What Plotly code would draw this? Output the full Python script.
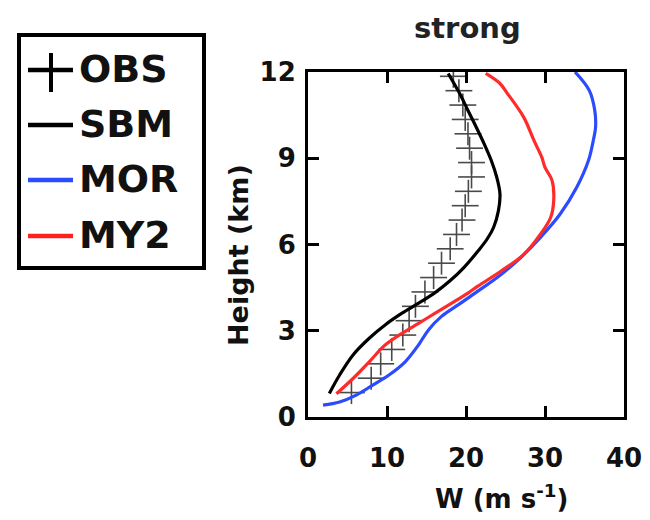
import plotly.graph_objects as go

# ---------------- data ----------------
obs_height = [0.85, 1.35, 1.85, 2.35, 2.85, 3.35, 3.85, 4.35, 4.85, 5.35, 5.85, 6.35,
              6.85, 7.35, 7.85, 8.35, 8.85, 9.35, 9.85, 10.35, 10.85, 11.35, 11.85]
obs_w = [5.5, 8.0, 9.2, 10.6, 12.0, 12.8, 13.6, 14.8, 15.9, 16.9, 18.0, 18.8,
         19.5, 19.9, 20.3, 20.7, 20.7, 20.45, 20.25, 19.9, 19.6, 19.1, 18.4]
obs_w_spread = [1.7, 1.7, 1.7, 1.7, 1.7, 1.7, 1.7, 1.7, 1.7, 1.7, 1.7, 1.7,
                1.7, 1.7, 1.7, 1.7, 1.7, 1.7, 1.7, 1.7, 1.7, 1.7, 1.7]
obs_h_spread = [0.4, 0.4, 0.4, 0.4, 0.4, 0.4, 0.4, 0.4, 0.4, 0.4, 0.4, 0.4,
                0.4, 0.4, 0.4, 0.4, 0.4, 0.4, 0.4, 0.4, 0.4, 0.4, 0.4]

sbm_height = [0.82, 1.46, 2.16, 2.74, 3.21, 3.61, 3.96, 4.31, 4.72, 5.19, 5.8, 6.2,
              6.6, 7.17, 7.75, 8.33, 8.92, 9.5, 10.08, 10.66, 11.25, 11.95]
sbm_w = [2.7, 4.0, 5.7, 7.75, 9.8, 11.9, 14.0, 16.0, 17.9, 19.7, 21.6, 22.7,
         23.5, 24.1, 24.3, 23.9, 23.2, 22.3, 21.3, 20.25, 19.2, 17.75]

mor_height = [0.41, 0.52, 0.76, 1.11, 1.46, 1.92, 2.51, 3.03, 3.5, 3.9, 4.3, 4.95,
              5.54, 6.24, 7.05, 7.98, 8.92, 9.6, 10.08, 10.66, 11.36, 12.0]
mor_w = [1.9, 4.0, 6.1, 8.2, 10.25, 12.3, 14.0, 15.25, 16.9, 19.0, 21.1, 24.4,
         26.9, 29.4, 31.9, 34.0, 35.5, 36.1, 36.4, 36.3, 35.6, 33.8]

my2_height = [0.81, 1.34, 1.92, 2.51, 2.91, 3.26, 3.61, 3.96, 4.31, 4.55, 5.07, 5.65,
              6.35, 6.93, 7.52, 8.22, 8.68, 9.03, 9.62, 10.43, 11.25, 11.6, 11.95]
my2_w = [3.6, 5.7, 7.75, 9.8, 11.9, 14.0, 16.1, 18.2, 20.25, 21.5, 24.4, 27.3,
         29.4, 30.7, 31.1, 30.9, 30.0, 29.6, 28.6, 27.3, 25.25, 24.3, 22.5]

x_ticks = [0, 10, 20, 30, 40]
y_ticks = [0, 3, 6, 9, 12]
legend_names = ["OBS", "SBM", "MOR", "MY2"]
legend_colors = ["black", "black", "#2b4bff", "#ff2020"]

FONT = "DejaVu Sans"

# ---------------- layout geometry (pixels) ----------------
W, H = 650, 520
L, R, T, B = 308, 624, 72, 417


def px(x):
    return (x - L) / (R - L)


def py(y):
    return (B - y) / (B - T)


fig = go.Figure()

fig.add_trace(go.Scatter(
    x=obs_w, y=obs_height, mode="markers", name="OBS",
    marker=dict(size=1, color="rgba(0,0,0,0)"),
    error_x=dict(type="data", array=obs_w_spread, color="#4a4a4a", thickness=1.6, width=0),
    error_y=dict(type="data", array=obs_h_spread, color="#4a4a4a", thickness=1.6, width=0),
    showlegend=False))

fig.add_trace(go.Scatter(x=sbm_w, y=sbm_height, mode="lines", name="SBM",
                         line=dict(color="black", width=3.2, shape="spline"), showlegend=False))
fig.add_trace(go.Scatter(x=mor_w, y=mor_height, mode="lines", name="MOR",
                         line=dict(color="#2b4bff", width=3.2, shape="spline"), showlegend=False))
fig.add_trace(go.Scatter(x=my2_w, y=my2_height, mode="lines", name="MY2",
                         line=dict(color="#ff2a2a", width=3.2, shape="spline"), showlegend=False))

axis_common = dict(
    showline=True, linecolor="black", linewidth=3, mirror="ticks",
    ticks="inside", ticklen=11, tickwidth=3, tickcolor="black",
    showgrid=False, zeroline=False,
    tickfont=dict(family=FONT, size=26, color="#111", weight="bold"),
)

fig.update_xaxes(range=[0, 40], tickvals=x_ticks, ticklabelstandoff=16, **axis_common)
fig.update_yaxes(range=[0, 12], tickvals=y_ticks, ticklabelstandoff=4, **axis_common)

shapes = []
annotations = []

# title + axis titles
annotations.append(dict(text="strong", x=px(467), y=py(28), xref="paper", yref="paper",
                        showarrow=False, xanchor="center", yanchor="middle",
                        font=dict(family=FONT, size=29, color="#222", weight="bold")))
annotations.append(dict(text="W (m s<sup>-1</sup>)", x=px(501), y=py(497), xref="paper", yref="paper",
                        showarrow=False, xanchor="center", yanchor="middle",
                        font=dict(family=FONT, size=26, color="#111", weight="bold")))
annotations.append(dict(text="Height (km)", x=px(238), y=py(255), xref="paper", yref="paper",
                        showarrow=False, xanchor="center", yanchor="middle", textangle=-90,
                        font=dict(family=FONT, size=27, color="#111", weight="bold")))

# manual legend
shapes.append(dict(type="rect", xref="paper", yref="paper",
                   x0=px(19), x1=px(204), y0=py(35), y1=py(268),
                   line=dict(color="black", width=4), fillcolor="white", layer="above"))
legend_y = [70, 125, 180, 236]
for name, col, yy in zip(legend_names, legend_colors, legend_y):
    shapes.append(dict(type="line", xref="paper", yref="paper",
                       x0=px(28), x1=px(73), y0=py(yy), y1=py(yy),
                       line=dict(color=col, width=4.5), layer="above"))
    annotations.append(dict(text=name, x=px(77), y=py(yy - 1), xref="paper", yref="paper",
                            showarrow=False, xanchor="left", yanchor="middle",
                            font=dict(family=FONT, size=38, color="#111", weight="bold")))
# vertical stroke of OBS "+"
shapes.append(dict(type="line", xref="paper", yref="paper",
                   x0=px(51), x1=px(51), y0=py(53), y1=py(92),
                   line=dict(color="black", width=4), layer="above"))

fig.update_layout(
    width=W, height=H,
    margin=dict(l=L, r=W - R, t=T, b=H - B, autoexpand=False),
    paper_bgcolor="white", plot_bgcolor="white",
    shapes=shapes, annotations=annotations,
    showlegend=False,
)

fig.write_html("out.html")
